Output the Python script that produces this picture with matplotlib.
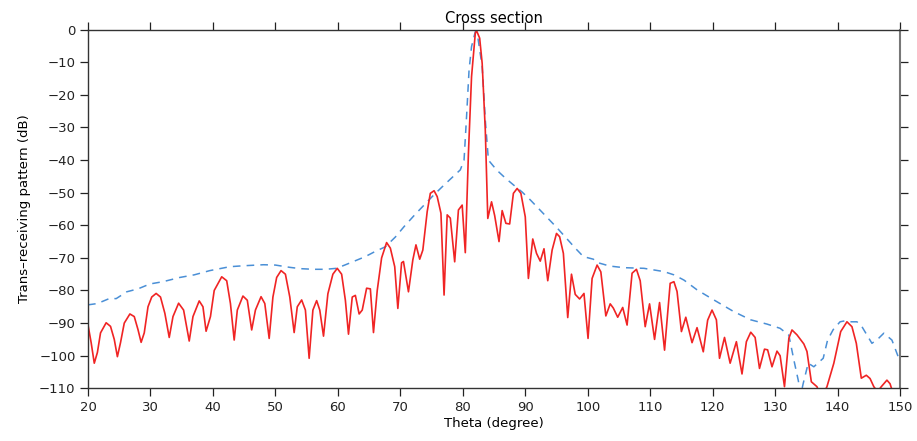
import matplotlib
matplotlib.use("Agg")
import matplotlib.pyplot as plt
import numpy as np

# red: trans-receiving pattern (solid)
theta_red = [20.0, 20.5, 21.0, 21.5, 22.0, 22.9, 23.6, 24.2, 24.7, 25.2, 25.8, 26.7, 27.4, 28.0, 28.5,
             29.0, 29.6, 30.2, 30.9, 31.6, 32.3, 33.0, 33.6, 34.5, 35.3, 36.2, 36.8, 37.8, 38.4, 38.9,
             39.6, 40.2, 41.4, 42.2, 42.8, 43.4, 43.9, 44.8, 45.5, 46.2, 46.8, 47.7, 48.3, 49.0, 49.6,
             50.2, 50.9, 51.6, 52.3, 53.0, 53.5, 54.2, 54.8, 55.4, 56.0, 56.6, 57.1, 57.7, 58.4, 59.2,
             59.9, 60.6, 61.2, 61.7, 62.3, 62.8, 63.4, 63.9, 64.6, 65.2, 65.7, 66.3, 67.0, 67.8, 68.4,
             69.1, 69.6, 70.2, 70.5, 71.3, 72.0, 72.5, 73.1, 73.6, 74.3, 74.8, 75.4, 75.9, 76.5, 77.0,
             77.5, 78.0, 78.7, 79.3, 79.9, 80.4, 80.9, 81.4, 82.0, 82.2, 82.7, 83.1, 83.6, 84.0, 84.6,
             85.1, 85.8, 86.3, 86.9, 87.5, 88.1, 88.7, 89.3, 90.0, 90.5, 91.2, 91.8, 92.4, 93.0, 93.6,
             94.3, 95.0, 95.5, 96.1, 96.8, 97.4, 98.0, 98.7, 99.4, 100.05, 100.7, 101.5, 102.1, 102.9,
             103.6, 104.1, 104.8, 105.6, 106.3, 107.1, 107.8, 108.4, 109.2, 109.9, 110.7, 111.5, 112.3,
             113.2, 113.8, 114.3, 115.0, 115.7, 116.7, 117.5, 118.5, 119.2, 119.9, 120.6, 121.1, 121.9,
             122.8, 123.8, 124.7, 125.4, 126.1, 126.8, 127.5, 128.3, 128.8, 129.5, 130.3, 130.8, 131.5,
             132.2, 132.7, 133.5, 134.6, 135.1, 135.8, 136.7, 137.4, 138.3, 139.4, 140.5, 141.5, 142.3,
             143.0, 143.8, 144.6, 145.2, 145.8, 146.4, 147.0, 147.9, 148.4, 148.8]
db_red = [-90.6, -96, -102.3, -99, -93, -89.9, -91, -95, -100.3, -96, -90, -87.2, -88, -92, -95.9,
          -93, -85, -82, -80.9, -82, -87, -94.4, -88, -83.9, -86, -95.5, -88, -83.2, -85, -92.5,
          -88, -80, -75.8, -77, -84, -95.2, -86, -81.7, -83, -92.1, -86, -81.9, -84, -94.7, -82,
          -76, -73.9, -75, -82, -92.9, -85, -82.9, -86, -100.8, -86, -83.1, -86, -94.0, -81, -75,
          -73.2, -75, -83, -93.4, -82, -81.5, -87.2, -86, -79.3, -79.5, -92.9, -80, -70, -65.3, -67,
          -72.7, -85.5, -71.5, -71.1, -80.4, -70.6, -66.0, -70.4, -67.6, -55.8, -50.2, -49.4, -51.2, -56.3, -81.4,
          -56.8, -57.8, -71.2, -55.3, -53.8, -68.4, -37.9, -14.4, -1.1, -0.3, -2.6, -10.3, -30.8, -57.9, -52.8,
          -57.0, -65.0, -55.5, -59.4, -59.6, -50.2, -48.7, -50.2, -57.4, -76.3, -64.2, -68.6, -71.0, -67.2, -77.0,
          -67.6, -62.5, -63.5, -68.6, -88.3, -75, -81.2, -82.6, -80.9, -94.7, -76.3, -72.2, -74.3, -87.8,
          -84.1, -85.4, -88.2, -85.2, -90.6, -74.7, -73.5, -77, -91.1, -84.1, -95.0, -83.7, -98.3,
          -77.8, -77.3, -80.3, -92.6, -88.2, -96.0, -91.4, -98.8, -89.1, -86.0, -89, -100.8, -94.4,
          -102.3, -95.7, -105.6, -95.7, -92.8, -94.4, -103.9, -98.0, -98.2, -103.4, -98.6, -100, -109.5,
          -94.7, -92.1, -93.6, -96.4, -98.7, -108.0, -109.5, -113, -109.5, -102.3, -92.6, -89.6, -91.1,
          -96.2, -106.9, -106.0, -107.0, -109.5, -111, -109.5, -107.5, -108.6, -111]

# blue: envelope (dashed)
theta_blue = [20, 21.5, 23.5, 24.5, 26.2, 28.0, 29.9, 32.0, 34.7, 37.0, 39.5, 42.7, 45.0, 48.1, 50.0,
              52.3, 54.0, 56.1, 58.0, 59.8, 62.0, 64.4, 66.0, 67.6, 69.2, 70.6, 72.3, 73.8, 75.3, 76.7,
              78.2, 79.6, 80.2, 80.6, 81.0, 81.4, 82.0, 82.3, 83.1, 83.6, 84.1, 85.4, 86.8, 88.1, 89.5,
              90.8, 92.1, 93.4, 95.0, 96.6, 98.0, 99.3, 100.9, 101.5, 103.5, 105.8, 109.0, 112.2, 113.8,
              115.4, 117.5, 118.8, 120.2, 121.8, 123.4, 124.8, 126.1, 128.7, 130.8, 132.2, 133.0, 133.7,
              134.1, 134.5, 135.3, 136.2, 137.0, 137.7, 138.4, 139.3, 140.4, 141.2, 142.2, 143.1, 143.9,
              145.5, 146.5, 147.4, 148.7, 149.9]
db_blue = [-84.4, -84, -82.4, -82.5, -80.4, -79.5, -78.0, -77.3, -76.0, -75.2, -73.9, -72.7, -72.4, -72.1, -72.2,
           -72.9, -73.3, -73.5, -73.5, -73.2, -71.5, -69.6, -68, -66.6, -63.6, -60.4, -56.8, -53.8, -50.8, -48.2,
           -45.5, -43.0, -40, -26.7, -12.4, -5.2, -0.6, -1.0, -11.3, -27.7, -40, -43, -45.5, -47.6, -49.8,
           -52.2, -54.8, -57.4, -60.6, -64, -67, -69.6, -70.4, -71.4, -72.5, -73.0, -73.2, -74.2, -75.2,
           -76.8, -79.8, -81.3, -82.9, -84.7, -86.5, -87.8, -89.0, -90.3, -91.6, -93.7, -101.3, -107.5,
           -112, -108.5, -102.3, -103.4, -102, -100.8, -95.2, -92, -89.6, -89.3, -89.6, -89.6, -91.1,
           -96.2, -94.8, -93.1, -95.2, -101.3]

xticks = np.arange(20, 151, 10)
yticks = np.arange(-110, 1, 10)

plt.rcParams['font.family'] = ['DejaVu Sans']
fig = plt.figure(figsize=(9.17, 4.41), dpi=100)
ax = fig.add_axes([0.096, 0.1195, 0.8855, 0.8132])

ax.plot(theta_blue, db_blue, color='#4a8fd6', lw=1.1, dashes=(5, 4))
ax.plot(theta_red, db_red, color='#f02424', lw=1.2)

ax.set_xlim(20, 150)
ax.set_ylim(-110, 0)
ax.set_xticks(xticks)
ax.set_yticks(yticks)
ax.tick_params(direction='out', length=5.5, width=0.9, colors='#222222', labelsize=9.5,
               top=True, right=True, labeltop=False, labelright=False)
for s in ax.spines.values():
    s.set_color('#333333')
    s.set_linewidth(1.0)
ax.spines['right'].set_color('#777777')
ax.spines['right'].set_linewidth(1.5)

ax.set_title('Cross section', fontsize=10.5, pad=5)
ax.set_xlabel('Theta (degree)', fontsize=9.5, labelpad=2)
ax.set_ylabel('Trans\u2013receiving pattern (dB)', fontsize=9.5, labelpad=6)

fig.savefig('out.png', dpi=100)
